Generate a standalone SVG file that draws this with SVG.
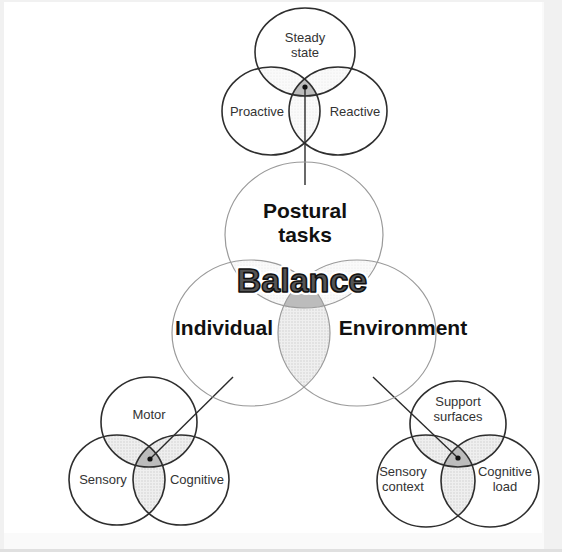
<svg xmlns="http://www.w3.org/2000/svg" width="562" height="552" viewBox="0 0 562 552">
  <style>
    .ring { fill: none; stroke: #2e2e2e; stroke-width: 1.6; }
    .ring-lt { fill: none; stroke: #9a9a9a; stroke-width: 1.2; }
    .lbl { font-family: "Liberation Sans", Arial, sans-serif; font-size: 13px; fill: #333; text-anchor: middle; }
    .big { font-family: "Liberation Sans", Arial, sans-serif; font-size: 21px; font-weight: bold; fill: #111; text-anchor: middle; }
    .pair { fill: url(#stip); }
    .core { fill: #bcbcbc; }
    .link { stroke: #2a2a2a; stroke-width: 1.4; fill: none; }
  </style>
  <defs>
    <pattern id="stip" width="3" height="3" patternUnits="userSpaceOnUse">
      <rect width="3" height="3" fill="#efefef"/>
      <circle cx="1" cy="1" r="0.7" fill="#cdcdcd"/>
    </pattern>
    <pattern id="stipFaint" width="3" height="3" patternUnits="userSpaceOnUse">
      <rect width="3" height="3" fill="#fafafa"/>
      <circle cx="1" cy="1" r="0.6" fill="#e6e6e6"/>
    </pattern>
    <!-- central trio -->
    <clipPath id="cP"><ellipse cx="304" cy="235" rx="79" ry="73"/></clipPath>
    <clipPath id="cI"><ellipse cx="251" cy="333" rx="79" ry="73"/></clipPath>
    <clipPath id="cE"><ellipse cx="357" cy="333" rx="79" ry="73"/></clipPath>
    <!-- top trio -->
    <clipPath id="tS"><ellipse cx="305" cy="52" rx="50" ry="44"/></clipPath>
    <clipPath id="tP"><ellipse cx="271" cy="111" rx="49" ry="44"/></clipPath>
    <clipPath id="tR"><ellipse cx="338" cy="111" rx="49" ry="44"/></clipPath>
    <!-- lower-left trio -->
    <clipPath id="lM"><ellipse cx="149" cy="422" rx="48" ry="45"/></clipPath>
    <clipPath id="lS"><ellipse cx="117" cy="480" rx="48" ry="45"/></clipPath>
    <clipPath id="lC"><ellipse cx="181" cy="480" rx="48" ry="45"/></clipPath>
    <!-- lower-right trio -->
    <clipPath id="rU"><ellipse cx="458" cy="424" rx="48" ry="43"/></clipPath>
    <clipPath id="rS"><ellipse cx="426" cy="481" rx="49" ry="46"/></clipPath>
    <clipPath id="rC"><ellipse cx="490" cy="481" rx="49" ry="46"/></clipPath>
  </defs>

  <!-- page -->
  <rect width="562" height="552" fill="#f1f1f1"/>
  <rect x="4" y="2" width="540" height="547" fill="#fafafa"/>
  <rect x="4" y="2" width="538" height="531" fill="#ffffff"/>
  <rect x="0" y="549" width="562" height="3" fill="#e0e0e0"/>

  <!-- shaded overlaps -->
  <g id="shading">
    <g clip-path="url(#cI)"><ellipse cx="357" cy="333" rx="79" ry="73" class="pair"/></g>
    <g clip-path="url(#cP)"><ellipse cx="251" cy="333" rx="79" ry="73" fill="url(#stipFaint)"/></g>
    <g clip-path="url(#cP)"><ellipse cx="357" cy="333" rx="79" ry="73" fill="url(#stipFaint)"/></g>
    <g clip-path="url(#cI)"><g clip-path="url(#cE)"><ellipse cx="304" cy="235" rx="79" ry="73" class="core"/></g></g>

    <g clip-path="url(#tS)"><ellipse cx="271" cy="111" rx="49" ry="44" fill="url(#stipFaint)"/></g>
    <g clip-path="url(#tS)"><ellipse cx="338" cy="111" rx="49" ry="44" fill="url(#stipFaint)"/></g>
    <g clip-path="url(#tP)"><ellipse cx="338" cy="111" rx="49" ry="44" fill="url(#stipFaint)"/></g>
    <g clip-path="url(#tP)"><g clip-path="url(#tR)"><ellipse cx="305" cy="52" rx="50" ry="44" class="core"/></g></g>

    <g clip-path="url(#lM)"><ellipse cx="117" cy="480" rx="48" ry="45" class="pair"/></g>
    <g clip-path="url(#lM)"><ellipse cx="181" cy="480" rx="48" ry="45" class="pair"/></g>
    <g clip-path="url(#lS)"><ellipse cx="181" cy="480" rx="48" ry="45" class="pair"/></g>
    <g clip-path="url(#lS)"><g clip-path="url(#lC)"><ellipse cx="149" cy="422" rx="48" ry="45" class="core"/></g></g>

    <g clip-path="url(#rU)"><ellipse cx="426" cy="481" rx="49" ry="46" class="pair"/></g>
    <g clip-path="url(#rU)"><ellipse cx="490" cy="481" rx="49" ry="46" class="pair"/></g>
    <g clip-path="url(#rS)"><ellipse cx="490" cy="481" rx="49" ry="46" class="pair"/></g>
    <g clip-path="url(#rS)"><g clip-path="url(#rC)"><ellipse cx="458" cy="424" rx="48" ry="43" class="core"/></g></g>
  </g>

  <!-- connectors -->
  <g id="connectors">
    <line class="link" x1="305" y1="87" x2="305" y2="185"/>
    <line class="link" x1="150" y1="459" x2="233" y2="377"/>
    <line class="link" x1="373" y1="377" x2="458" y2="458"/>
  </g>

  <!-- top trio: postural task types -->
  <g id="steady-state">
    <ellipse class="ring" cx="305" cy="52" rx="50" ry="44"/>
    <text class="lbl" x="305" y="42">Steady</text>
    <text class="lbl" x="305" y="57">state</text>
  </g>
  <g id="proactive">
    <ellipse class="ring" cx="271" cy="111" rx="49" ry="44"/>
    <text class="lbl" x="257" y="116">Proactive</text>
  </g>
  <g id="reactive">
    <ellipse class="ring" cx="338" cy="111" rx="49" ry="44"/>
    <text class="lbl" x="355" y="116">Reactive</text>
  </g>

  <!-- central trio -->
  <g id="postural-tasks">
    <ellipse class="ring-lt" cx="304" cy="235" rx="79" ry="73"/>
    <text class="big" x="305" y="218">Postural</text>
    <text class="big" x="305" y="242">tasks</text>
  </g>
  <g id="individual">
    <ellipse class="ring-lt" cx="251" cy="333" rx="79" ry="73"/>
    <text class="big" x="224" y="335">Individual</text>
  </g>
  <g id="environment">
    <ellipse class="ring-lt" cx="357" cy="333" rx="79" ry="73"/>
    <text class="big" x="403" y="335">Environment</text>
  </g>
  <g id="balance">
    <text x="302" y="292" font-family="Liberation Sans, Arial, sans-serif" font-size="34" font-weight="bold" text-anchor="middle" fill="none" stroke="#ffffff" stroke-width="6" stroke-linejoin="round">Balance</text>
    <text x="302" y="292" font-family="Liberation Sans, Arial, sans-serif" font-size="34" font-weight="bold" text-anchor="middle" fill="#555555" stroke="#111111" stroke-width="1.6" stroke-linejoin="round">Balance</text>
  </g>

  <!-- lower-left trio: individual systems -->
  <g id="motor">
    <ellipse class="ring" cx="149" cy="422" rx="48" ry="45"/>
    <text class="lbl" x="149" y="419">Motor</text>
  </g>
  <g id="sensory">
    <ellipse class="ring" cx="117" cy="480" rx="48" ry="45"/>
    <text class="lbl" x="103" y="484">Sensory</text>
  </g>
  <g id="cognitive">
    <ellipse class="ring" cx="181" cy="480" rx="48" ry="45"/>
    <text class="lbl" x="197" y="484">Cognitive</text>
  </g>

  <!-- lower-right trio: environmental factors -->
  <g id="support-surfaces">
    <ellipse class="ring" cx="458" cy="424" rx="48" ry="43"/>
    <text class="lbl" x="458" y="406">Support</text>
    <text class="lbl" x="458" y="421">surfaces</text>
  </g>
  <g id="sensory-context">
    <ellipse class="ring" cx="426" cy="481" rx="49" ry="46"/>
    <text class="lbl" x="403" y="476">Sensory</text>
    <text class="lbl" x="403" y="491">context</text>
  </g>
  <g id="cognitive-load">
    <ellipse class="ring" cx="490" cy="481" rx="49" ry="46"/>
    <text class="lbl" x="505" y="476">Cognitive</text>
    <text class="lbl" x="505" y="491">load</text>
  </g>

  <!-- junction dots -->
  <g id="dots" fill="#111">
    <circle cx="305" cy="87" r="2.6"/>
    <circle cx="150" cy="459" r="2.6"/>
    <circle cx="458" cy="458" r="2.6"/>
  </g>
</svg>
